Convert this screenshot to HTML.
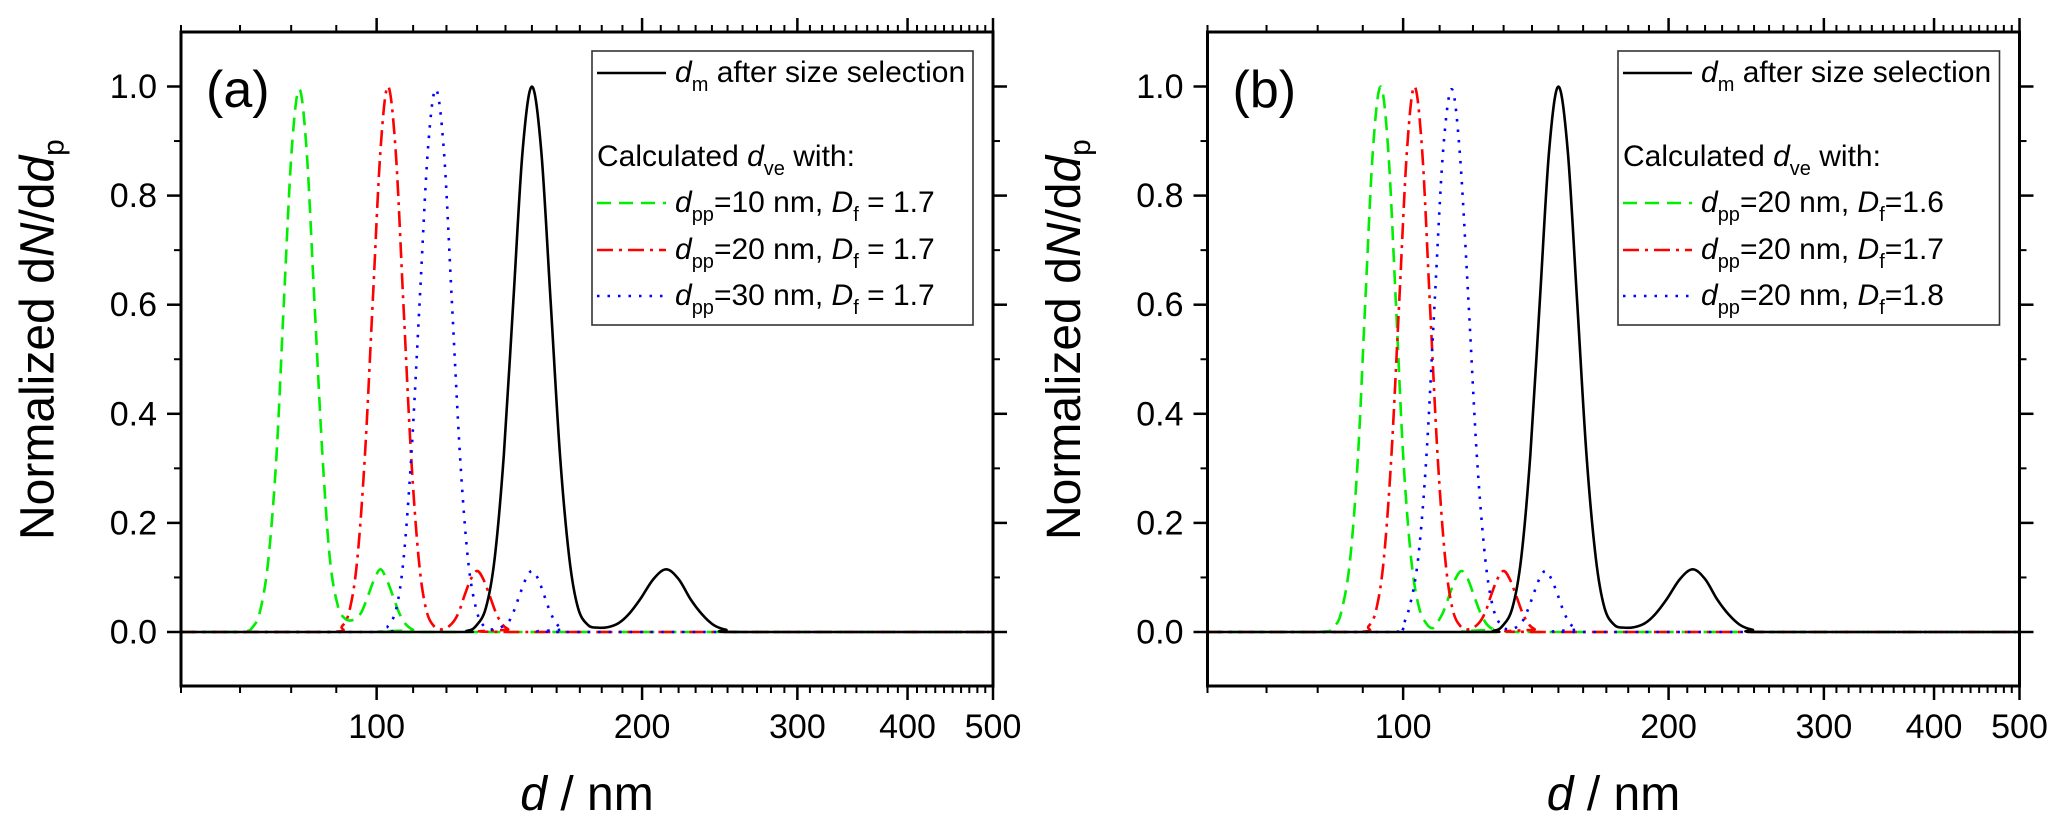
<!DOCTYPE html>
<html><head><meta charset="utf-8"><style>
html,body{margin:0;padding:0;background:#fff;}
svg{display:block;font-family:"Liberation Sans",Arial,sans-serif;}
</style></head><body>
<svg id="fig" width="2067" height="827" viewBox="0 0 2067 827" xmlns="http://www.w3.org/2000/svg"></svg>
<script>
// ---- data (d in nm, normalized dN/dd_p) ----
const blackD=[60,120,126.5,129.6,133.0,136.1,139.4,142.9,146.4,150,153.7,157.5,161.4,165.4,169.2,173.6,178,183,188,193,199,206,213,220,227,234,241,249,260,500];
const blackY=[0,0,0.002,0.011,0.044,0.135,0.325,0.607,0.882,1,0.882,0.607,0.325,0.135,0.044,0.013,0.008,0.009,0.016,0.032,0.06,0.097,0.115,0.097,0.06,0.032,0.013,0.004,0,0];
const greenAD=[60,70,72.5,73.9,75.4,77.0,78.5,80.1,81.7,83.3,85.0,86.8,88.5,90.3,92,94,96,97.8,99.4,101,102.6,104.3,106,107.8,110,113,500];
const greenAY=[0,0,0.011,0.044,0.135,0.325,0.607,0.882,0.995,0.882,0.607,0.325,0.135,0.05,0.025,0.022,0.035,0.067,0.097,0.115,0.097,0.067,0.036,0.015,0.004,0,0];
const redD=[60,88,91.4,93.3,95.1,97.0,99.0,101,103,105.1,107.2,109.4,111.6,113.7,116.1,119,121.8,123.9,125.8,127.9,130,132.1,134.3,136.5,138.7,141,144,500];
const redY=[0,0,0.011,0.044,0.135,0.325,0.607,0.882,1,0.882,0.607,0.325,0.135,0.044,0.011,0.005,0.016,0.036,0.067,0.097,0.112,0.097,0.067,0.036,0.015,0.005,0,0];
const blueAD=[60,100,103.0,105.3,107.3,109.5,111.9,114.3,116.7,119.2,121.7,124.3,126.9,129.6,132.3,136,140.6,142.9,145.2,147.6,150,152.5,154.9,157.4,160,162.6,166,500];
const blueAY=[0,0,0.011,0.044,0.135,0.325,0.607,0.882,0.995,0.882,0.607,0.325,0.135,0.044,0.011,0.005,0.016,0.036,0.067,0.097,0.112,0.097,0.067,0.036,0.015,0.005,0,0];
const greenBD=[60,80,83.6,85.3,87.1,88.9,90.6,92.4,94.3,96.2,98.1,100,102.1,104.2,106.3,108,109.2,111,112.8,114.6,116.5,118.4,120.3,122.3,124.3,126.5,130,500];
const greenBY=[0,0,0.011,0.044,0.135,0.325,0.607,0.882,1,0.882,0.607,0.325,0.135,0.046,0.015,0.007,0.016,0.036,0.067,0.097,0.112,0.097,0.067,0.036,0.015,0.005,0,0];
const blueBD=[60,96,99.5,101.6,104,106.3,108.6,111,113.5,115.9,118.6,121.2,123.9,126.5,129.4,132.5,135.9,138.1,140.4,142.7,145,147.3,149.8,152.2,154.7,157.5,162,500];
const blueBY=[0,0,0.011,0.044,0.135,0.325,0.607,0.882,0.995,0.882,0.607,0.325,0.135,0.044,0.011,0.005,0.015,0.036,0.067,0.097,0.112,0.097,0.067,0.036,0.015,0.005,0,0];
const xMajor=[100,200,300,400,500];
const xMinor=[60,70,80,90,110,120,130,140,150,160,170,180,190,210,220,230,240,250,260,270,280,290,310,320,330,340,350,360,370,380,390,410,420,430,440,450,460,470,480,490];
const yMajor=[0,0.2,0.4,0.6,0.8,1.0];
const yMinor=[0.1,0.3,0.5,0.7,0.9];
const yLabels=["0.0","0.2","0.4","0.6","0.8","1.0"];

const NS="http://www.w3.org/2000/svg";
const svg=document.getElementById('fig');
function mk(tag,attrs,parent){const e=document.createElementNS(NS,tag);for(const k in attrs)e.setAttribute(k,attrs[k]);(parent||svg).appendChild(e);return e;}
const Y0=632,YS=545.5,TOP=32,BOT=686;
function yPx(v){return Y0-v*YS;}
function makeX(x0,x1){const k=(x1-x0)/Math.log10(500/60);return d=>x0+k*Math.log10(d/60);}
function smoothPath(xs,ys){
  let p=[];for(let i=0;i<xs.length;i++)p.push([xs[i],ys[i]]);
  let s='M'+p[0][0].toFixed(2)+','+p[0][1].toFixed(2);
  for(let i=0;i<p.length-1;i++){
    const a=p[Math.max(0,i-1)],b=p[i],c=p[i+1],d=p[Math.min(p.length-1,i+2)];
    const c1=[b[0]+(c[0]-a[0])/6,b[1]+(c[1]-a[1])/6],c2=[c[0]-(d[0]-b[0])/6,c[1]-(d[1]-b[1])/6];
    c1[1]=Math.min(c1[1],Y0);c2[1]=Math.min(c2[1],Y0);
    s+=' C'+c1[0].toFixed(2)+','+c1[1].toFixed(2)+' '+c2[0].toFixed(2)+','+c2[1].toFixed(2)+' '+c[0].toFixed(2)+','+c[1].toFixed(2);
  }
  return s;
}
const styles={
  green:{stroke:'#00ee00',dash:'14 8',cap:'butt'},
  red:{stroke:'#ff0000',dash:'16 6 3 6',cap:'butt'},
  blue:{stroke:'#0000ff',dash:'2.5 8',cap:'butt'},
  black:{stroke:'#000',dash:'none',cap:'butt'}
};
function drawPanel(id,x0,x1,series,label,legendRows,lx,lboxR){
  const g=mk('g',{});
  
  
  const X=makeX(x0,x1);
  // series
  for(const s of series){
    const st=styles[s.color];
    const p=mk('path',{d:smoothPath(s.d.map(X),s.y.map(yPx)),fill:'none',stroke:st.stroke,'stroke-width':2.6,'stroke-dasharray':st.dash,'stroke-linecap':st.cap,'stroke-linejoin':'round'},g);
    
    
  }
  // frame
  const fr=mk('rect',{x:x0,y:TOP,width:x1-x0,height:BOT-TOP,fill:'none',stroke:'#000','stroke-width':3},g);
  
  
  // x ticks
  for(const v of xMajor){
    const x=X(v);
    mk('line',{x1:x,y1:BOT,x2:x,y2:BOT+14,stroke:'#000','stroke-width':2.5},g);
    mk('line',{x1:x,y1:TOP,x2:x,y2:TOP-14,stroke:'#000','stroke-width':2.5},g);
    const t=mk('text',{x:x,y:738,'font-size':34,'text-anchor':'middle'},g);
    t.textContent=String(v);
    
    
  }
  for(const v of xMinor){
    const x=X(v);
    mk('line',{x1:x,y1:BOT,x2:x,y2:BOT+7,stroke:'#000','stroke-width':2},g);
    mk('line',{x1:x,y1:TOP,x2:x,y2:TOP-7,stroke:'#000','stroke-width':2},g);
  }
  yMajor.forEach((v,i)=>{
    const y=yPx(v);
    mk('line',{x1:x0,y1:y,x2:x0-14,y2:y,stroke:'#000','stroke-width':2.5},g);
    mk('line',{x1:x1,y1:y,x2:x1+14,y2:y,stroke:'#000','stroke-width':2.5},g);
    const t=mk('text',{x:x0-24,y:y+11.5,'font-size':34,'text-anchor':'end'},g);
    t.textContent=yLabels[i];
    
    
  });
  for(const v of yMinor){
    const y=yPx(v);
    mk('line',{x1:x0,y1:y,x2:x0-7,y2:y,stroke:'#000','stroke-width':2},g);
    mk('line',{x1:x1,y1:y,x2:x1+7,y2:y,stroke:'#000','stroke-width':2},g);
  }
  // axis titles
  const yt=mk('text',{transform:'translate('+(x0-127.5)+',540) rotate(-90)','font-size':48},g);
  yt.innerHTML='Normalized d<tspan font-style="italic">N</tspan>/d<tspan font-style="italic">d</tspan><tspan font-size="30" dy="10">p</tspan>';
  
  
  const xt=mk('text',{x:(x0+x1)/2,y:810,'font-size':48,'text-anchor':'middle'},g);
  xt.innerHTML='<tspan font-style="italic">d</tspan> / nm';
  
  
  const pl=mk('text',{x:x0+25,y:107,'font-size':52},g);
  pl.textContent=label;
  
  
  // legend
  const lg=mk('g',{},g);
  
  
  mk('rect',{x:lx,y:51,width:lboxR-lx,height:274,fill:'#fff',stroke:'#333','stroke-width':1.6},lg);
  const rowsY=[82,166,212,259,305];
  legendRows.forEach((r,i)=>{
    const by=rowsY[i];
    if(r.color){
      const st=styles[r.color];
      mk('line',{x1:lx+5,y1:by-9,x2:lx+74,y2:by-9,stroke:st.stroke,'stroke-width':2.6,'stroke-dasharray':st.dash},lg);
    }
    const t=mk('text',{x:r.color?lx+83:lx+5,y:by,'font-size':30},lg);
    t.innerHTML=r.html;
    
    
  });
}
const sub=(s)=>'<tspan font-size="20" dy="9">'+s+'</tspan><tspan dy="-9">';
drawPanel('a',181,993,[
  {name:'series-green-dpp10',color:'green',d:greenAD,y:greenAY},
  {name:'series-red-dpp20',color:'red',d:redD,y:redY},
  {name:'series-blue-dpp30',color:'blue',d:blueAD,y:blueAY},
  {name:'series-dm-black',color:'black',d:blackD,y:blackY}
],'(a)',[
  {color:'black',html:'<tspan font-style="italic">d</tspan>'+sub('m')+' after size selection</tspan>'},
  {color:null,html:'Calculated <tspan font-style="italic">d</tspan>'+sub('ve')+' with:</tspan>'},
  {color:'green',html:'<tspan font-style="italic">d</tspan>'+sub('pp')+'=10 nm, <tspan font-style="italic">D</tspan></tspan>'+sub('f')+' = 1.7</tspan>'},
  {color:'red',html:'<tspan font-style="italic">d</tspan>'+sub('pp')+'=20 nm, <tspan font-style="italic">D</tspan></tspan>'+sub('f')+' = 1.7</tspan>'},
  {color:'blue',html:'<tspan font-style="italic">d</tspan>'+sub('pp')+'=30 nm, <tspan font-style="italic">D</tspan></tspan>'+sub('f')+' = 1.7</tspan>'}
],592,973);
drawPanel('b',1207.5,2019.5,[
  {name:'series-green-df16',color:'green',d:greenBD,y:greenBY},
  {name:'series-red-df17',color:'red',d:redD,y:redY},
  {name:'series-blue-df18',color:'blue',d:blueBD,y:blueBY},
  {name:'series-dm-black',color:'black',d:blackD,y:blackY}
],'(b)',[
  {color:'black',html:'<tspan font-style="italic">d</tspan>'+sub('m')+' after size selection</tspan>'},
  {color:null,html:'Calculated <tspan font-style="italic">d</tspan>'+sub('ve')+' with:</tspan>'},
  {color:'green',html:'<tspan font-style="italic">d</tspan>'+sub('pp')+'=20 nm, <tspan font-style="italic">D</tspan></tspan>'+sub('f')+'=1.6</tspan>'},
  {color:'red',html:'<tspan font-style="italic">d</tspan>'+sub('pp')+'=20 nm, <tspan font-style="italic">D</tspan></tspan>'+sub('f')+'=1.7</tspan>'},
  {color:'blue',html:'<tspan font-style="italic">d</tspan>'+sub('pp')+'=20 nm, <tspan font-style="italic">D</tspan></tspan>'+sub('f')+'=1.8</tspan>'}
],1618,1999.5);
</script>
</body></html>
